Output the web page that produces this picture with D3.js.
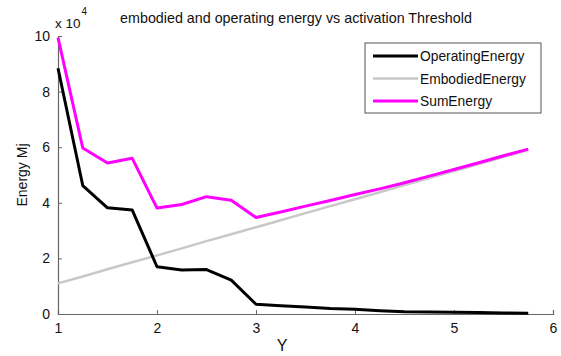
<!DOCTYPE html>
<html>
<head>
<meta charset="utf-8">
<script src="https://cdn.jsdelivr.net/npm/d3@7/dist/d3.min.js"></script>
<style>
  html, body { margin: 0; padding: 0; background: #fff; }
  svg { display: block; font-family: Arial, "Liberation Sans", sans-serif; }
</style>
</head>
<body>
<svg id="chart" width="561" height="356"></svg>
<script>
// Activation threshold values (x axis)
const threshold = [1, 1.25, 1.5, 1.75, 2, 2.25, 2.5, 2.75, 3, 3.25, 3.5, 3.75,
                   4, 4.25, 4.5, 4.75, 5, 5.25, 5.5, 5.75];
// Energy series, in units of 10^4 Mj
const operatingEnergy = [8.84, 4.62, 3.82, 3.74, 1.70, 1.58, 1.60, 1.22, 0.35, 0.30,
                         0.25, 0.20, 0.17, 0.12, 0.08, 0.07, 0.06, 0.05, 0.04, 0.03];
const embodiedEnergy = [1.10, 1.35, 1.61, 1.86, 2.11, 2.36, 2.62, 2.87, 3.12, 3.37,
                        3.63, 3.88, 4.13, 4.38, 4.64, 4.89, 5.14, 5.39, 5.65, 5.90];
const sumEnergy = [9.94, 5.97, 5.43, 5.60, 3.81, 3.94, 4.22, 4.09, 3.47, 3.67,
                   3.88, 4.08, 4.30, 4.50, 4.72, 4.96, 5.20, 5.44, 5.69, 5.93];

const seriesNames = ["OperatingEnergy", "EmbodiedEnergy", "SumEnergy"];
const seriesColors = ["#000000", "#c8c8c8", "#ff00ff"];
const seriesWidths = [3, 2.5, 3];
const seriesValues = [operatingEnergy, embodiedEnergy, sumEnergy];

const xTicks = [1, 2, 3, 4, 5, 6];
const yTicks = [0, 2, 4, 6, 8, 10];

const svg = d3.select("#chart");
const margin = { left: 58, right: 8, top: 36, bottom: 42 };
const W = 561, H = 356;

const x = d3.scaleLinear().domain([1, 6]).range([margin.left, W - margin.right]);
const y = d3.scaleLinear().domain([0, 10]).range([H - margin.bottom, margin.top]);

// Axes with inward-pointing ticks
const axisColor = "#666";
const xAxis = svg.append("g")
  .attr("transform", `translate(0,${y(0)})`)
  .call(d3.axisBottom(x).tickValues(xTicks).tickSize(-4).tickPadding(6).tickFormat(d3.format("d")));
const yAxis = svg.append("g")
  .attr("transform", `translate(${x(1)},0)`)
  .call(d3.axisLeft(y).tickValues(yTicks).tickSize(-4).tickPadding(8).tickFormat(d3.format("d")));

[xAxis, yAxis].forEach(g => {
  g.select(".domain").attr("stroke", axisColor).attr("stroke-width", 1.2);
  g.selectAll(".tick line").attr("stroke", axisColor);
  g.selectAll(".tick text")
    .attr("fill", "#111")
    .style("font-size", "14px")
    .style("font-family", "Arial, 'Liberation Sans', sans-serif");
});
xAxis.selectAll(".tick text").attr("dy", "0.9em");

// Lines
const line = d3.line().x((d, i) => x(threshold[i])).y(d => y(d));
// draw embodied first, then operating, then sum on top
[1, 0, 2].forEach(k => {
  svg.append("path")
    .datum(seriesValues[k])
    .attr("fill", "none")
    .attr("stroke", seriesColors[k])
    .attr("stroke-width", seriesWidths[k])
    .attr("stroke-linejoin", "round")
    .attr("d", line);
});

// Title
svg.append("text")
  .attr("x", 296).attr("y", 23)
  .attr("text-anchor", "middle")
  .style("font-size", "14.3px")
  .attr("fill", "#111")
  .text("embodied and operating energy  vs activation Threshold");

// Exponent label
const expo = svg.append("text").attr("x", 55).attr("y", 28)
  .style("font-size", "13.5px").attr("fill", "#111");
expo.append("tspan").text("x 10");
expo.append("tspan").attr("dy", -13).attr("dx", 1).style("font-size", "10px").text("4");

// Axis labels
svg.append("text")
  .attr("x", 282).attr("y", 351)
  .attr("text-anchor", "middle")
  .style("font-size", "16px")
  .attr("fill", "#111")
  .text("Y");
svg.append("text")
  .attr("transform", `translate(27,${(y(0) + y(10)) / 2}) rotate(-90)`)
  .attr("text-anchor", "middle")
  .style("font-size", "14px")
  .attr("fill", "#111")
  .text("Energy Mj");

// Legend
const lg = svg.append("g").attr("transform", "translate(365,43)");
lg.append("rect").attr("width", 176).attr("height", 70)
  .attr("fill", "#fff").attr("stroke", "#555").attr("stroke-width", 1);
seriesNames.forEach((name, i) => {
  const ry = 13 + i * 22.5;
  lg.append("line")
    .attr("x1", 8).attr("x2", 53).attr("y1", ry).attr("y2", ry)
    .attr("stroke", seriesColors[i]).attr("stroke-width", seriesWidths[i]);
  lg.append("text")
    .attr("x", 55).attr("y", ry + 5)
    .style("font-size", "13.8px")
    .attr("fill", "#111")
    .text(name);
});
</script>
</body>
</html>
